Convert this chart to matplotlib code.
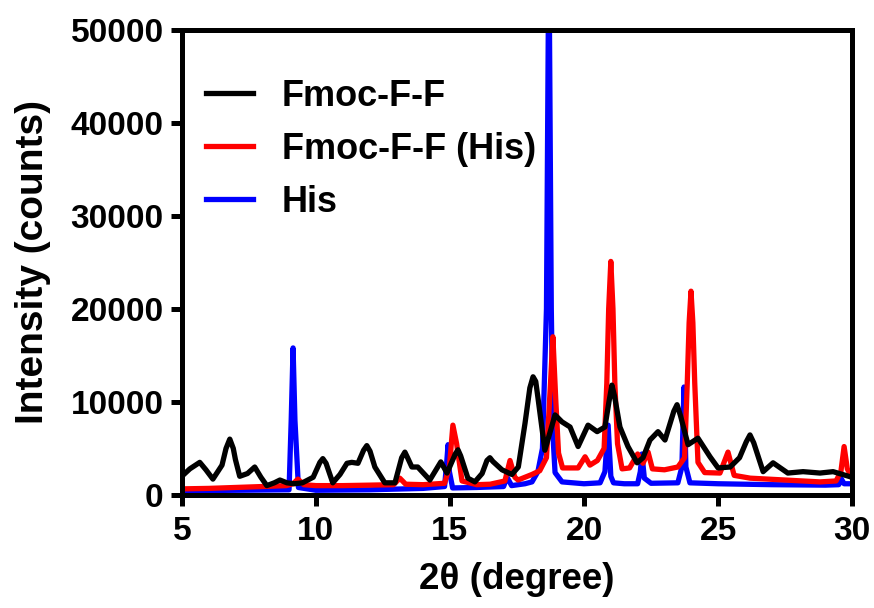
import matplotlib.pyplot as plt

plt.rcParams['font.family'] = ['Liberation Sans', 'DejaVu Sans']
plt.rcParams['font.weight'] = 'bold'

# Fmoc-F-F powder pattern (2theta in degree, intensity in counts)
black_x = [5.0, 5.3, 5.67, 5.9, 6.16, 6.5, 6.65, 6.79, 6.92, 7.0, 7.16, 7.45, 7.72, 7.95, 8.17,
           8.45, 8.66, 8.92, 9.2, 9.5, 9.9, 10.15, 10.26, 10.38, 10.63, 10.9, 11.16, 11.34, 11.57,
           11.78, 11.9, 12.02, 12.2, 12.57, 12.95, 13.2, 13.32, 13.42, 13.58, 13.8, 14.25, 14.66,
           14.89, 15.2, 15.3, 15.4, 15.67, 15.93, 16.2, 16.38, 16.49, 16.6, 16.94, 17.31, 17.55,
           17.8, 17.98, 18.1, 18.2, 18.28, 18.54, 18.92, 19.18, 19.48, 19.78, 20.15, 20.49, 20.78,
           20.93, 21.04, 21.14, 21.34, 21.64, 21.98, 22.2, 22.46, 22.76, 23.02, 23.35, 23.47, 23.6,
           23.88, 24.25, 24.7, 25.0, 25.45, 25.8, 26.05, 26.19, 26.33, 26.68, 27.05, 27.6, 28.17,
           28.8, 29.29, 29.93]
black_y = [2000, 2800, 3500, 2700, 1700, 3200, 5000, 6000, 5000, 3800, 2000, 2300, 3000, 1900, 1000,
           1300, 1600, 1300, 1200, 1300, 1900, 3500, 3900, 3400, 1300, 2200, 3400, 3500, 3400,
           4800, 5300, 4700, 3000, 1300, 1300, 4000, 4600, 4000, 3000, 3000, 1600, 3550,
           2350, 4400, 4850, 4200, 1800, 1400, 2300, 3700, 4000, 3600, 2700, 2200, 3000,
           7700, 11500, 12700, 12200, 10500, 4800, 8600, 7850, 7300, 5200, 7500, 6800, 7300,
           10000, 11800, 10600, 7300, 5200, 3450, 4000, 5900, 6800, 5900, 9000, 9700, 8500,
           5400, 6100, 4100, 2900, 3000, 4000, 5700, 6450, 5600, 2500, 3450, 2350, 2500,
           2350, 2500, 1950]

# Fmoc-F-F (His)
red_x = [5.0, 6.0, 7.0, 8.0, 8.9, 9.15, 9.33, 9.55, 10.0, 11.0, 12.0, 12.9, 13.13, 13.35, 14.0,
         14.8, 14.98, 15.11, 15.25, 15.45, 16.0, 16.5, 17.05, 17.24, 17.42, 17.54, 18.06, 18.35,
         18.6, 18.75, 18.84, 18.95, 19.05, 19.2, 19.78, 20.04, 20.22, 20.5, 20.75, 20.85, 20.92,
         21.0, 21.08, 21.15, 21.25, 21.42, 21.7, 22.0, 22.2, 22.39, 22.55, 23.0, 23.5, 23.75,
         23.85, 23.92, 23.99, 24.06, 24.13, 24.25, 24.5, 25.07, 25.37, 25.6, 26.2, 27.5, 28.8,
         29.4, 29.58, 29.7, 29.82, 30.0]
red_y = [650, 700, 800, 900, 1000, 1200, 1700, 1100, 1000, 1000, 1050, 1100, 1800, 1150, 1100,
         1250, 3000, 7500, 5500, 1500, 1100, 1150, 1500, 3700, 1900, 1600, 2200, 2600,
         4000, 12000, 17000, 10000, 4500, 2900, 2900, 4100, 3200, 3700, 5000, 12000, 20000,
         25100, 20000, 12000, 5500, 2800, 2900, 4400, 3400, 4600, 2800, 2700, 3000, 4000,
         12000, 18500, 21900, 18500, 12000, 3500, 2400, 2350, 4600, 2100, 1800, 1600, 1400,
         1500, 2500, 5200, 2800, 1800]

# His
blue_x = [5.0, 7.0, 9.0, 9.08, 9.15, 9.22, 9.35, 10.0, 12.0, 14.0, 14.8, 14.88, 14.93, 14.98,
          15.1, 16.0, 17.0, 17.13, 17.3, 17.8, 18.06, 18.28, 18.45, 18.6, 18.69, 18.78, 18.85,
          18.92, 19.18, 20.0, 20.6, 20.78, 20.9, 21.0, 21.1, 21.5, 22.0, 22.1, 22.16, 22.25,
          22.5, 23.5, 23.65, 23.73, 23.8, 23.95, 25.0, 27.0, 29.0, 29.5, 29.6, 29.7, 30.0]
blue_y = [450, 500, 550, 8000, 15800, 8000, 800, 500, 550, 700, 900, 3500, 5400, 2500,
          750, 800, 900, 1900, 1000, 1200, 1400, 2500, 5000, 20000, 60000, 20000, 6000,
          2400, 1400, 1200, 1300, 2500, 7500, 2000, 1300, 1200, 1200, 2500, 4400, 1800,
          1250, 1300, 3000, 11600, 3000, 1300, 1200, 1100, 1050, 1100, 1700, 1200, 1200]

fig = plt.figure(figsize=(8.74, 6.08), dpi=100)
ax = fig.add_axes([0.208, 0.186, 0.767, 0.765])

lw = 3.8
l_his, = ax.plot(blue_x, blue_y, color='#0000ff', lw=lw, label='His')
l_red, = ax.plot(red_x, red_y, color='#ff0000', lw=lw, label='Fmoc-F-F (His)')
l_blk, = ax.plot(black_x, black_y, color='black', lw=lw, label='Fmoc-F-F')

ax.set_xlim(5, 30)
ax.set_ylim(0, 50000)
ax.set_xticks([5, 10, 15, 20, 25, 30])
ax.set_yticks([0, 10000, 20000, 30000, 40000, 50000])

for s in ax.spines.values():
    s.set_linewidth(3.6)
ax.tick_params(direction='out', length=8, width=3.6, labelsize=24, pad=5)
ax.tick_params(axis='x', pad=7)

ax.set_xlabel('2θ (degree)', fontsize=26.5, fontweight='bold', labelpad=11)
ax.set_ylabel('Intensity (counts)', fontsize=28, fontweight='bold', labelpad=14)

ax.legend(handles=[l_blk, l_red, l_his], loc='upper left', frameon=False,
          bbox_to_anchor=(0.036, 0.895), borderaxespad=0, borderpad=0,
          fontsize=26, handlelength=1.3, handletextpad=0.8, labelspacing=0.5)

fig.savefig('out.png', dpi=100)
